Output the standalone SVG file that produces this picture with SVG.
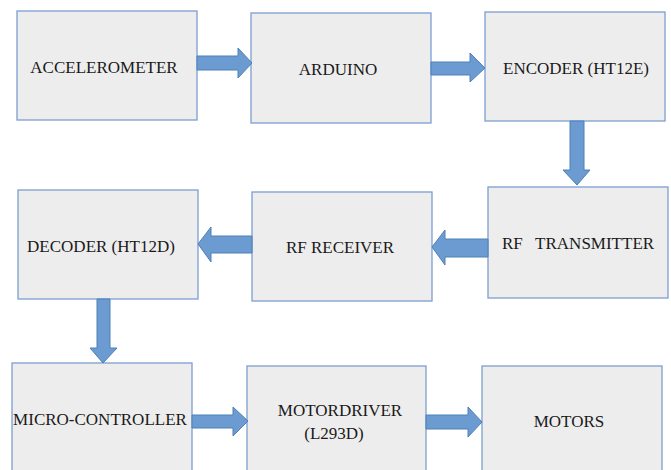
<svg xmlns="http://www.w3.org/2000/svg" width="671" height="470" viewBox="0 0 671 470">
<style>
.box{fill:#ededed;stroke:#7b9fd0;stroke-width:1.3}
.lbl{font-family:"Liberation Serif","Times New Roman",serif;font-size:17px;fill:#1a1a1a;text-anchor:middle;dominant-baseline:central}
.arr{fill:#6b9bd0;stroke:#4f80b8;stroke-width:1}
</style>
<rect width="671" height="470" fill="#ffffff"/>
<g id="accelerometer"><rect class="box" x="17" y="11" width="180" height="109"/><text class="lbl" x="104" y="67">ACCELEROMETER</text></g>
<g id="arduino"><rect class="box" x="251" y="13" width="180" height="110"/><text class="lbl" x="338" y="69">ARDUINO</text></g>
<g id="encoder"><rect class="box" x="485" y="12" width="180" height="109"/><text class="lbl" x="576" y="68">ENCODER (HT12E)</text></g>
<g id="rf-transmitter"><rect class="box" x="488" y="187" width="180" height="111"/><text class="lbl" x="578" y="243" xml:space="preserve">RF   TRANSMITTER</text></g>
<g id="rf-receiver"><rect class="box" x="252" y="192" width="180" height="109"/><text class="lbl" x="340" y="247">RF RECEIVER</text></g>
<g id="decoder"><rect class="box" x="18" y="190" width="180" height="109"/><text class="lbl" x="101" y="246">DECODER (HT12D)</text></g>
<g id="micro-controller"><rect class="box" x="12" y="363" width="180" height="120"/><text class="lbl" x="100" y="419">MICRO-CONTROLLER</text></g>
<g id="motordriver"><rect class="box" x="247" y="366" width="179" height="120"/><text class="lbl" x="340" y="410">MOTORDRIVER</text><text class="lbl" x="334" y="433">(L293D)</text></g>
<g id="motors"><rect class="box" x="482" y="366" width="180" height="120"/><text class="lbl" x="569" y="421">MOTORS</text></g>
<g id="connectors">
<polygon class="arr" points="197,56 238,56 238,48 252,63 238,78 238,70 197,70"/>
<polygon class="arr" points="431,62 470,62 470,53 485,68 470,82 470,75 431,75"/>
<polygon class="arr" points="570,121 584,121 584,170 590,170 577,185 563,170 570,170"/>
<polygon class="arr" points="488,239 445,239 445,230 432,247 445,265 445,257 488,257"/>
<polygon class="arr" points="252,236 211,236 211,227 198,244 211,262 211,253 252,253"/>
<polygon class="arr" points="97,299 110,299 110,348 117,348 103,363 90,348 97,348"/>
<polygon class="arr" points="192,415 233,415 233,407 248,421 233,436 233,428 192,428"/>
<polygon class="arr" points="426,415 468,415 468,407 482,422 468,437 468,429 426,429"/>
</g>
</svg>
